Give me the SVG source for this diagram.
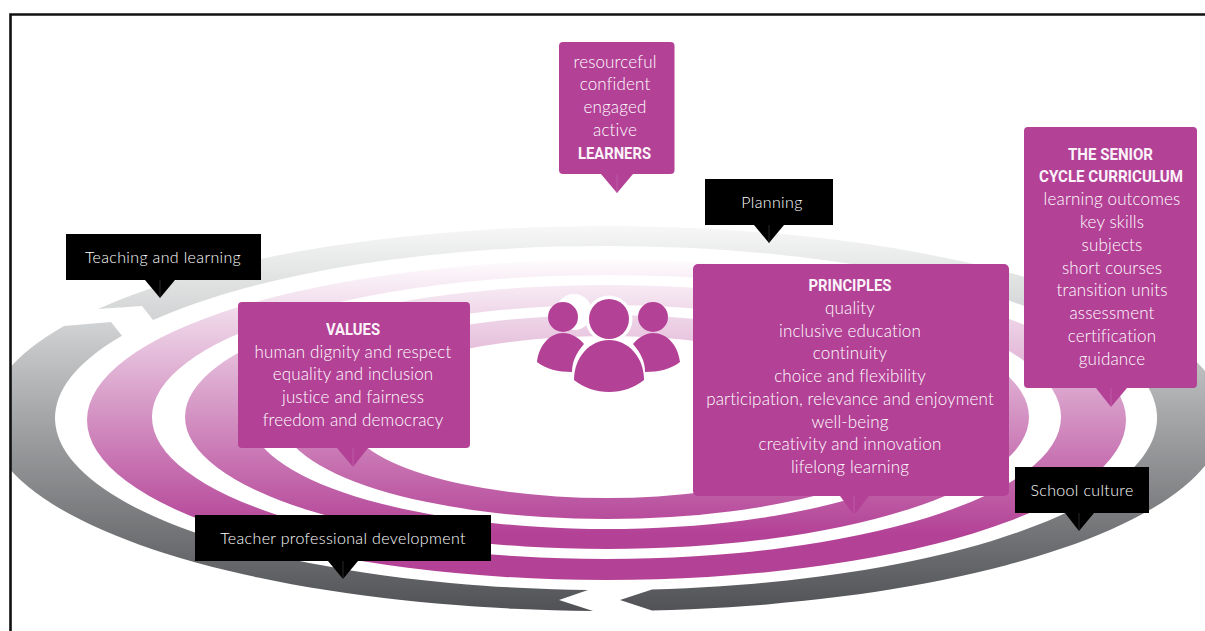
<svg xmlns="http://www.w3.org/2000/svg" width="1205" height="631" viewBox="0 0 1205 631">
<style>
.m{fill:#b34196}
.k{fill:#000}
.t{font-family:"Lato","Liberation Sans",sans-serif;font-size:17px;font-weight:300;fill:#fff;text-anchor:middle;letter-spacing:.14px}
.b{font-family:"Roboto","Liberation Sans",sans-serif;font-size:16.500px;font-weight:700;fill:#fbf3f9;text-anchor:middle}
.w{font-family:"Lato","Liberation Sans",sans-serif;font-size:16px;font-weight:300;fill:#fff;text-anchor:middle;letter-spacing:.35px}
.s{stroke:#c76cb0;stroke-width:.6}
.sk{stroke:#444;stroke-width:.6}
</style>
<defs>
<linearGradient id="gp" gradientUnits="userSpaceOnUse" x1="0" y1="255" x2="0" y2="535">
<stop offset="0" stop-color="#fff"/><stop offset="1" stop-color="#b34196"/>
</linearGradient>
<linearGradient id="gg" gradientUnits="userSpaceOnUse" x1="0" y1="226" x2="0" y2="611">
<stop offset="0" stop-color="#f6f7f6"/><stop offset=".25" stop-color="#d0d2d3"/><stop offset=".5" stop-color="#a4a5a7"/><stop offset="1" stop-color="#515255"/>
</linearGradient>
<clipPath id="cp"><rect x="11" y="15" width="1194" height="616"/></clipPath>
</defs>
<rect width="1205" height="631" fill="#fff"/>
<g id="rings">
<g clip-path="url(#cp)" fill="url(#gg)">
<path d="M98 308.9A618 192.5 0 1 1 652 610.5L620 600L652 589.4A551 172 0 1 0 153 320.1L142 306Z"/>
<path d="M593 610.9A618 192.5 0 0 1 64 326L111 322L122 335.8A551 172 0 0 0 588 589.9L559 600Z"/>
</g>
<g fill="url(#gp)" fill-rule="evenodd">
<path d="M87 420a519.5 160 0 1 0 1039 0a519.5 160 0 1 0 -1039 0ZM152 417a454.5 142 0 1 0 909 0a454.5 142 0 1 0 -909 0Z"/>
<path d="M185 417a422 132 0 1 0 844 0a422 132 0 1 0 -844 0ZM250 417a357 112 0 1 0 714 0a357 112 0 1 0 -714 0Z"/>
<path d="M281 417a326 102 0 1 0 652 0a326 102 0 1 0 -652 0ZM348 417a259 81 0 1 0 518 0a259 81 0 1 0 -518 0Z"/>
</g>
</g>
<path id="frame" d="M10.5 631V14.5H1205" fill="none" stroke="#111" stroke-width="2.6"/>
<g id="people">
<circle cx="574" cy="312" r="18" fill="#fff"/><circle cx="609" cy="319" r="23.500" fill="#fff"/>
<circle class="m" cx="563" cy="317" r="15"/><circle class="m" cx="653" cy="317" r="15"/>
<path class="m" d="M537 362C539 345 550 333 563 333C571 333 578 337 584 344C576 353 572 362 572 372C558 372 546 369 537 362Z"/>
<path class="m" d="M680 362C678 345 667 333 653 333C646 333 639 337 633 344C641 353 645 362 645 372C659 372 671 369 680 362Z"/>
<circle class="m" cx="609" cy="319" r="20"/>
<path class="m" d="M574 380C574 357 590 340 609 340C628 340 644 357 644 380C634 388 622 392 609 392C596 392 584 388 574 380Z"/>
</g>
<g id="learners">
<rect class="m" x="559" y="42" width="115.500" height="132" rx="4"/><path class="m" d="M601 174L617 193L633 174Z"/><path class="s" d="M617 174V193"/>
<text class="t" x="615" y="68">resourceful</text><text class="t" x="615" y="90">confident</text><text class="t" x="615" y="113">engaged</text><text class="t" x="615" y="136">active</text><text class="b" x="614.500" y="159" textLength="73" lengthAdjust="spacingAndGlyphs">LEARNERS</text>
</g>
<g id="planning">
<rect class="k" x="705" y="179" width="128" height="46"/><path class="k" d="M754 225L769 243L784 225Z"/><path class="sk" d="M769 225V243"/>
<text class="w" x="772" y="208">Planning</text>
</g>
<g id="teaching">
<rect class="k" x="66" y="234" width="195" height="46"/><path class="k" d="M145 280L160 298L175 280Z"/><path class="sk" d="M160 280V298"/>
<text class="w" x="163" y="263">Teaching and learning</text>
</g>
<g id="values">
<rect class="m" x="238" y="302" width="232" height="146" rx="4"/><path class="m" d="M337 448L353 467L368 448Z"/><path class="s" d="M353 448V467"/>
<text class="b" x="353" y="335" textLength="54" lengthAdjust="spacingAndGlyphs">VALUES</text><text class="t" x="353" y="358">human dignity and respect</text><text class="t" x="353" y="380">equality and inclusion</text><text class="t" x="353" y="403">justice and fairness</text><text class="t" x="353" y="426">freedom and democracy</text>
</g>
<g id="principles">
<rect class="m" x="693" y="264" width="316" height="232" rx="5"/><path class="m" d="M840 496L854 515L869 496Z"/><path class="s" d="M854 496V515"/>
<text class="b" x="850" y="291" textLength="83" lengthAdjust="spacingAndGlyphs">PRINCIPLES</text><text class="t" x="850" y="314">quality</text><text class="t" x="850" y="337">inclusive education</text><text class="t" x="850" y="359">continuity</text><text class="t" x="850" y="382">choice and flexibility</text><text class="t" x="850" y="405">participation, relevance and enjoyment</text><text class="t" x="850" y="428">well-being</text><text class="t" x="850" y="450">creativity and innovation</text><text class="t" x="850" y="473">lifelong learning</text>
</g>
<g id="senior">
<rect class="m" x="1024" y="127" width="173" height="261" rx="4"/><path class="m" d="M1096 388L1111 407L1127 388Z"/><path class="s" d="M1111 388V407"/>
<text class="b" x="1110.500" y="160" textLength="85" lengthAdjust="spacingAndGlyphs">THE SENIOR</text><text class="b" x="1111" y="182" textLength="144" lengthAdjust="spacingAndGlyphs">CYCLE CURRICULUM</text><text class="t" x="1112" y="205">learning outcomes</text><text class="t" x="1112" y="228">key skills</text><text class="t" x="1112" y="251">subjects</text><text class="t" x="1112" y="274">short courses</text><text class="t" x="1112" y="296">transition units</text><text class="t" x="1112" y="319">assessment</text><text class="t" x="1112" y="342">certification</text><text class="t" x="1112" y="365">guidance</text>
</g>
<g id="school">
<rect class="k" x="1015" y="467" width="134" height="46"/><path class="k" d="M1065 513L1079 531L1094 513Z"/><path class="sk" d="M1079 513V531"/>
<text class="w" x="1082" y="496">School culture</text>
</g>
<g id="teacher">
<rect class="k" x="195" y="515" width="296" height="46"/><path class="k" d="M328 561L343 579L358 561Z"/><path class="sk" d="M343 561V579"/>
<text class="w" x="343" y="544">Teacher professional development</text>
</g>
</svg>
